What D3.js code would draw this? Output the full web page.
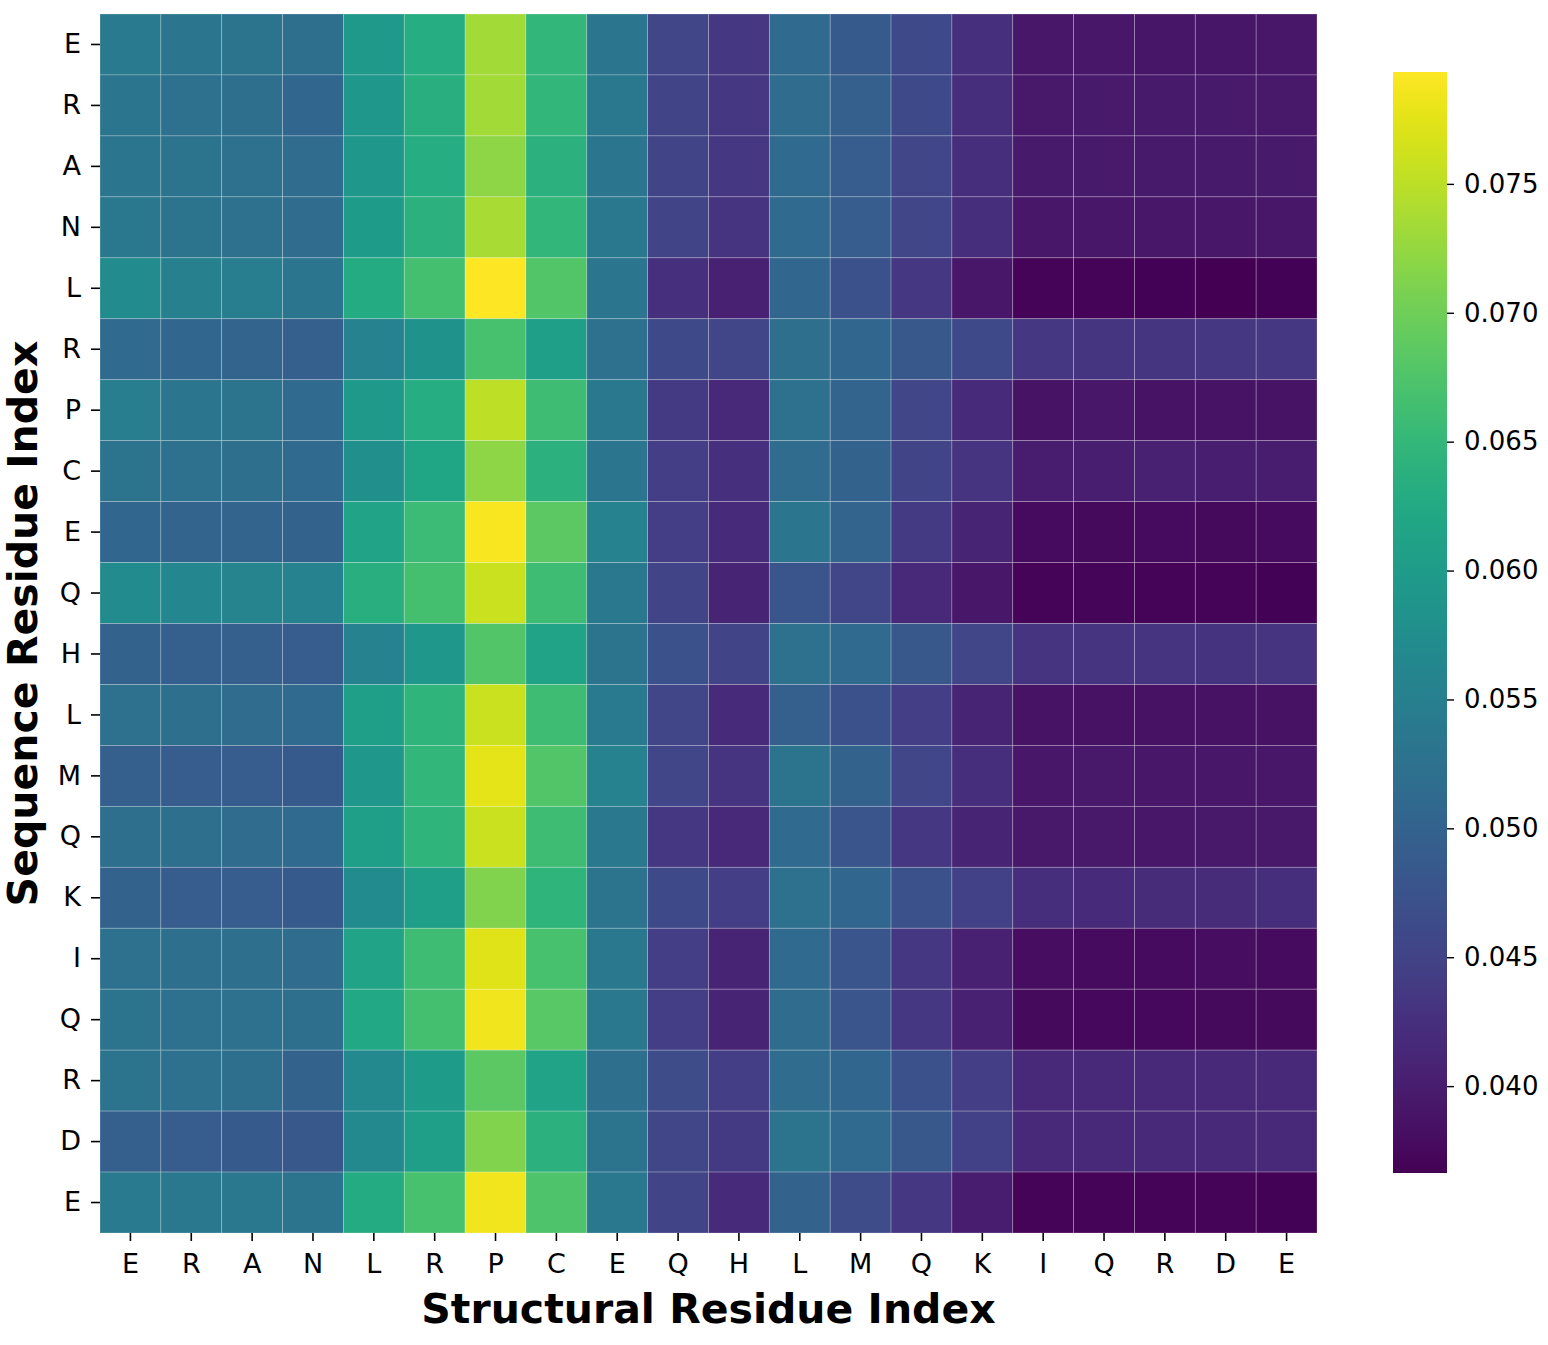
<!DOCTYPE html>
<html>
<head>
<meta charset="utf-8">
<script src="https://cdn.jsdelivr.net/npm/d3@7"></script>
<style>
  body { margin: 0; background: #fff; }
  text { font-family: "DejaVu Sans", sans-serif; }
</style>
</head>
<body>
<div id="chart"></div>
<script>
// residue labels along each axis
const structLabels = ["E", "R", "A", "N", "L", "R", "P", "C", "E", "Q", "H", "L", "M", "Q", "K", "I", "Q", "R", "D", "E"];
const seqLabels = ["E", "R", "A", "N", "L", "R", "P", "C", "E", "Q", "H", "L", "M", "Q", "K", "I", "Q", "R", "D", "E"];

// attention values, one row per sequence residue
const rowE1 = [0.05414, 0.05328, 0.05286, 0.05200, 0.05969, 0.06311, 0.07336, 0.06482, 0.05328, 0.04560, 0.04346, 0.05115, 0.04859, 0.04602, 0.04261, 0.03919, 0.03919, 0.03897, 0.03897, 0.03919];
const rowR1 = [0.05328, 0.05243, 0.05200, 0.05072, 0.05926, 0.06354, 0.07336, 0.06482, 0.05371, 0.04517, 0.04346, 0.05158, 0.04944, 0.04602, 0.04218, 0.03940, 0.03962, 0.03962, 0.03962, 0.03940];
const rowA = [0.05328, 0.05286, 0.05243, 0.05158, 0.05926, 0.06311, 0.07208, 0.06396, 0.05328, 0.04517, 0.04346, 0.05115, 0.04901, 0.04560, 0.04218, 0.03962, 0.03962, 0.03962, 0.03962, 0.03962];
const rowN = [0.05371, 0.05286, 0.05243, 0.05158, 0.06012, 0.06396, 0.07379, 0.06482, 0.05371, 0.04517, 0.04303, 0.05115, 0.04901, 0.04560, 0.04218, 0.03919, 0.03919, 0.03919, 0.03919, 0.03919];
const rowL1 = [0.05713, 0.05499, 0.05457, 0.05328, 0.06268, 0.06653, 0.07934, 0.06781, 0.05328, 0.04261, 0.04047, 0.05072, 0.04730, 0.04346, 0.03919, 0.03705, 0.03705, 0.03684, 0.03663, 0.03684];
const rowR2 = [0.05115, 0.05072, 0.05029, 0.04944, 0.05542, 0.05841, 0.06695, 0.06055, 0.05243, 0.04602, 0.04560, 0.05200, 0.05072, 0.04816, 0.04602, 0.04346, 0.04325, 0.04325, 0.04346, 0.04346];
const rowP = [0.05457, 0.05328, 0.05286, 0.05115, 0.05969, 0.06311, 0.07507, 0.06610, 0.05371, 0.04389, 0.04132, 0.05243, 0.05029, 0.04560, 0.04175, 0.03876, 0.03919, 0.03876, 0.03876, 0.03876];
const rowC = [0.05286, 0.05243, 0.05200, 0.05115, 0.05798, 0.06183, 0.07208, 0.06396, 0.05328, 0.04431, 0.04261, 0.05158, 0.04987, 0.04517, 0.04303, 0.04004, 0.04026, 0.04047, 0.04026, 0.04004];
const rowE2 = [0.05072, 0.05029, 0.05029, 0.04987, 0.06140, 0.06567, 0.07891, 0.06866, 0.05542, 0.04431, 0.04175, 0.05328, 0.05029, 0.04389, 0.04090, 0.03791, 0.03769, 0.03791, 0.03769, 0.03791];
const rowQ1 = [0.05713, 0.05627, 0.05585, 0.05542, 0.06354, 0.06653, 0.07592, 0.06610, 0.05371, 0.04517, 0.04090, 0.04773, 0.04560, 0.04132, 0.03919, 0.03705, 0.03727, 0.03705, 0.03705, 0.03684];
const rowH = [0.04987, 0.04944, 0.04944, 0.04901, 0.05542, 0.05926, 0.06781, 0.06140, 0.05286, 0.04730, 0.04517, 0.05243, 0.05115, 0.04816, 0.04560, 0.04303, 0.04303, 0.04303, 0.04282, 0.04303];
const rowL2 = [0.05243, 0.05200, 0.05158, 0.05115, 0.06055, 0.06439, 0.07592, 0.06610, 0.05414, 0.04560, 0.04175, 0.04944, 0.04730, 0.04431, 0.04090, 0.03876, 0.03855, 0.03855, 0.03855, 0.03855];
const rowM = [0.04944, 0.04901, 0.04901, 0.04859, 0.05926, 0.06482, 0.07763, 0.06781, 0.05542, 0.04560, 0.04303, 0.05286, 0.04987, 0.04560, 0.04218, 0.03919, 0.03940, 0.03919, 0.03919, 0.03919];
const rowQ2 = [0.05200, 0.05200, 0.05158, 0.05115, 0.06055, 0.06439, 0.07592, 0.06610, 0.05371, 0.04346, 0.04132, 0.05115, 0.04773, 0.04346, 0.04090, 0.03940, 0.03940, 0.03919, 0.03940, 0.03940];
const rowK = [0.04987, 0.04901, 0.04901, 0.04859, 0.05713, 0.06055, 0.07122, 0.06439, 0.05286, 0.04602, 0.04431, 0.05243, 0.05072, 0.04730, 0.04474, 0.04218, 0.04175, 0.04196, 0.04196, 0.04218];
const rowI = [0.05243, 0.05200, 0.05200, 0.05158, 0.06140, 0.06610, 0.07720, 0.06695, 0.05371, 0.04431, 0.04090, 0.05115, 0.04773, 0.04346, 0.04047, 0.03812, 0.03791, 0.03791, 0.03812, 0.03791];
const rowQ3 = [0.05286, 0.05243, 0.05243, 0.05200, 0.06225, 0.06653, 0.07849, 0.06823, 0.05371, 0.04431, 0.04090, 0.05158, 0.04773, 0.04346, 0.04047, 0.03769, 0.03748, 0.03748, 0.03769, 0.03769];
const rowR3 = [0.05286, 0.05243, 0.05200, 0.04987, 0.05670, 0.06012, 0.06866, 0.06140, 0.05200, 0.04645, 0.04431, 0.05158, 0.05072, 0.04730, 0.04431, 0.04132, 0.04132, 0.04132, 0.04132, 0.04132];
const rowD = [0.04944, 0.04901, 0.04859, 0.04816, 0.05670, 0.06055, 0.07122, 0.06396, 0.05286, 0.04560, 0.04389, 0.05286, 0.05115, 0.04816, 0.04474, 0.04132, 0.04154, 0.04132, 0.04132, 0.04154];
const rowE3 = [0.05414, 0.05371, 0.05371, 0.05286, 0.06268, 0.06695, 0.07849, 0.06738, 0.05371, 0.04517, 0.04175, 0.04987, 0.04645, 0.04346, 0.04004, 0.03705, 0.03705, 0.03705, 0.03705, 0.03684];

const colorbarTicks = [0.040, 0.045, 0.050, 0.055, 0.060, 0.065, 0.070, 0.075];

const matrix = [rowE1, rowR1, rowA, rowN, rowL1, rowR2, rowP, rowC, rowE2, rowQ1,
                rowH, rowL2, rowM, rowQ2, rowK, rowI, rowQ3, rowR3, rowD, rowE3];

const W = 1548, H = 1345;
const plot = { left: 100, top: 14, width: 1217, height: 1219 };
const cbar = { left: 1393, top: 72, width: 54, height: 1101 };

const svg = d3.select("#chart").append("svg")
    .attr("width", W)
    .attr("height", H);

// flatten into cells
const cells = [];
matrix.forEach((row, i) => row.forEach((v, j) => cells.push({ r: i, c: j, v: v })));

const vmin = d3.min(cells, d => d.v), vmax = d3.max(cells, d => d.v);
const color = d3.scaleSequential(d3.interpolateViridis).domain([vmin, vmax]);

const x = d3.scaleBand().domain(d3.range(structLabels.length)).range([plot.left, plot.left + plot.width]);
const y = d3.scaleBand().domain(d3.range(seqLabels.length)).range([plot.top, plot.top + plot.height]);

svg.append("g")
    .selectAll("rect")
    .data(cells)
    .enter().append("rect")
    .attr("x", d => x(d.c))
    .attr("y", d => y(d.r))
    .attr("width", x.bandwidth())
    .attr("height", y.bandwidth())
    .attr("fill", d => color(d.v))
    .attr("stroke", "rgba(255,255,255,0.28)")
    .attr("stroke-width", 0.8);

// axes
const xAxis = svg.append("g")
    .attr("transform", `translate(0,${plot.top + plot.height})`)
    .call(d3.axisBottom(x).tickFormat(i => structLabels[i]).tickSize(8).tickPadding(13));
const yAxis = svg.append("g")
    .attr("transform", `translate(${plot.left},0)`)
    .call(d3.axisLeft(y).tickFormat(i => seqLabels[i]).tickSize(9).tickPadding(10));

[xAxis, yAxis].forEach(a => {
    a.select(".domain").remove();
    a.selectAll(".tick line").attr("stroke", "#000").attr("stroke-width", 1.6);
    a.selectAll(".tick text").attr("font-size", 27).attr("fill", "#000")
        .style("font-family", "DejaVu Sans, sans-serif");
});

// axis titles
svg.append("text")
    .attr("x", plot.left + plot.width / 2)
    .attr("y", 1323)
    .attr("text-anchor", "middle")
    .attr("font-size", 41)
    .attr("font-weight", "bold")
    .text("Structural Residue Index");

svg.append("text")
    .attr("transform", `translate(37,${plot.top + plot.height / 2}) rotate(-90)`)
    .attr("text-anchor", "middle")
    .attr("font-size", 41)
    .attr("font-weight", "bold")
    .text("Sequence Residue Index");

// colorbar
const defs = svg.append("defs");
const grad = defs.append("linearGradient")
    .attr("id", "cbgrad")
    .attr("x1", 0).attr("y1", 1).attr("x2", 0).attr("y2", 0);
d3.range(0, 1.0001, 0.02).forEach(t => {
    grad.append("stop").attr("offset", t).attr("stop-color", d3.interpolateViridis(t));
});

svg.append("rect")
    .attr("x", cbar.left)
    .attr("y", cbar.top)
    .attr("width", cbar.width)
    .attr("height", cbar.height)
    .attr("fill", "url(#cbgrad)");

const cy = d3.scaleLinear().domain([vmin, vmax]).range([cbar.top + cbar.height, cbar.top]);
const cAxis = svg.append("g")
    .attr("transform", `translate(${cbar.left + cbar.width},0)`)
    .call(d3.axisRight(cy).tickValues(colorbarTicks).tickFormat(d3.format(".3f")).tickSize(7).tickPadding(10));
cAxis.select(".domain").remove();
cAxis.selectAll(".tick line").attr("stroke", "#000").attr("stroke-width", 1.4);
cAxis.selectAll(".tick text").attr("font-size", 26).attr("fill", "#000")
    .style("font-family", "DejaVu Sans, sans-serif");
</script>
</body>
</html>
